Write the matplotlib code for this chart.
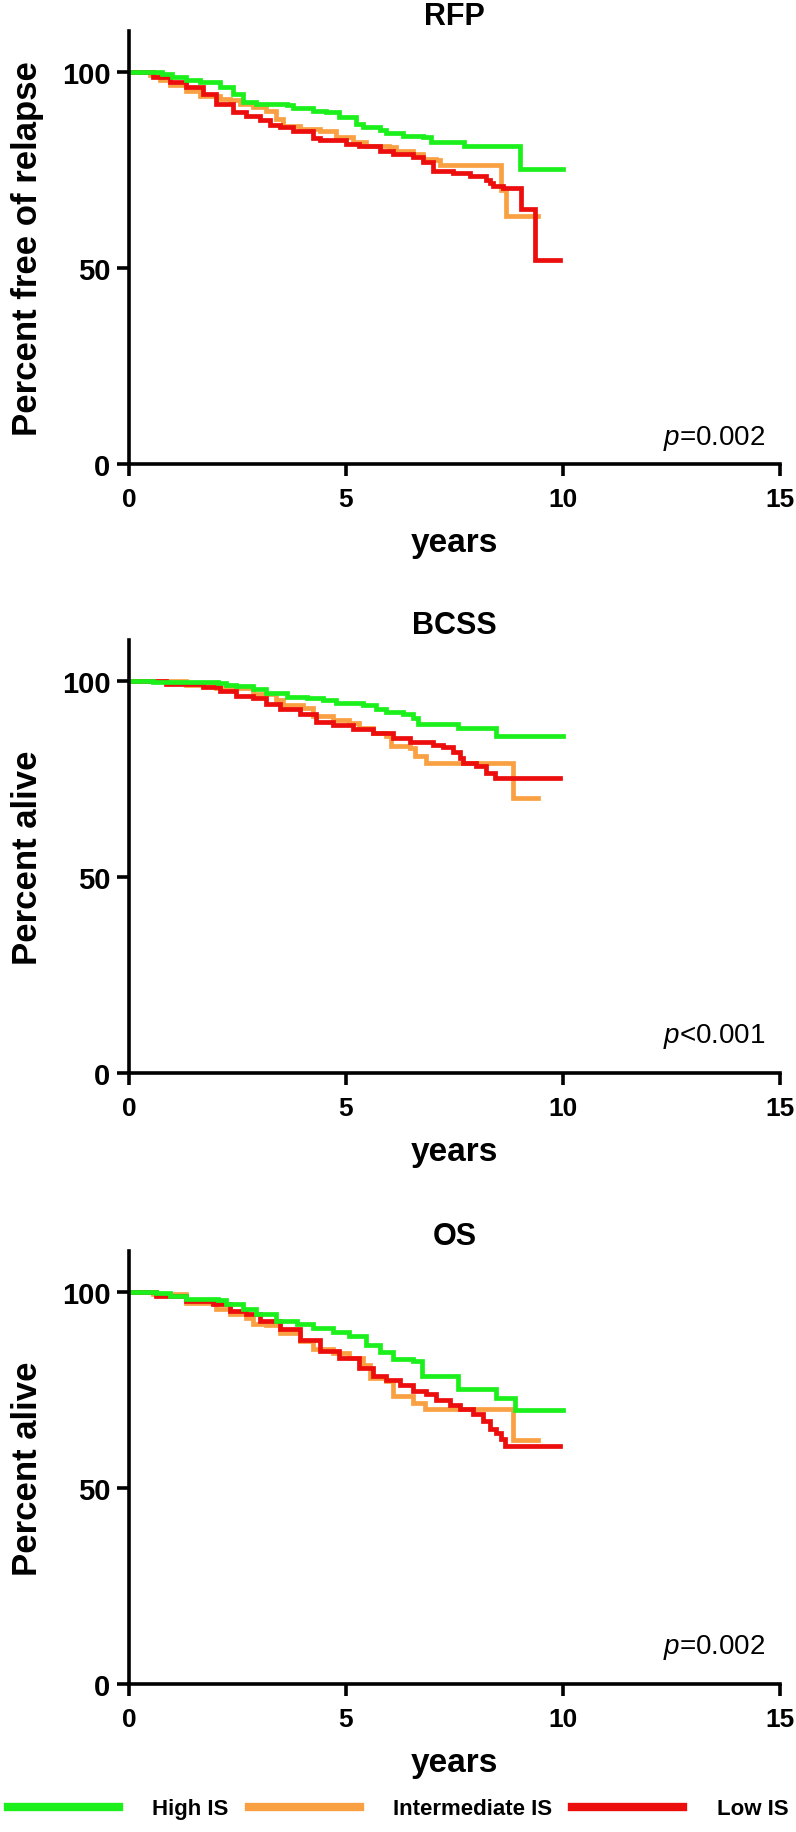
import matplotlib
matplotlib.use('Agg')
import matplotlib.pyplot as plt
from matplotlib.lines import Line2D

plt.rcParams['font.family'] = ['Liberation Sans', 'DejaVu Sans']
plt.rcParams['mathtext.fontset'] = 'custom'
plt.rcParams['mathtext.rm'] = 'Liberation Sans'
plt.rcParams['mathtext.it'] = 'Liberation Sans:italic'

groups = ['High IS', 'Intermediate IS', 'Low IS']
colors = ['#1CF01C', '#F9A043', '#EC0D0D']

panel_titles = ['RFP', 'BCSS', 'OS']
panel_ylabels = ['Percent free of relapse', 'Percent alive', 'Percent alive']
panel_pvalues = ['$p$=0.002', '$p$<0.001', '$p$=0.002']
pvalue_y = [5, 8, 8]

x_ticks = [0, 5, 10, 15]
y_ticks = [0, 50, 100]

# ---- RFP ----
rfp_high_t = [0, 0.75, 1.0, 1.32, 1.63, 2.09, 2.40, 2.63, 2.93, 3.63, 3.78, 4.24, 4.55, 4.85, 5.24,
              5.39, 5.78, 5.93, 6.31, 6.77, 6.97, 7.73, 9.0, 10.0]
rfp_high_s = [100, 99.6, 98.8, 97.9, 97.4, 96.2, 94.5, 92.5, 91.9, 91.5, 90.8, 90.2, 89.8, 88.5, 86.8,
              86.0, 85.3, 84.5, 83.7, 83.4, 82.3, 81.1, 75.3, 75.3]
rfp_int_t = [0, 0.48, 0.71, 0.94, 1.32, 1.63, 2.09, 2.32, 2.55, 2.86, 3.16, 3.39, 3.55, 3.93, 4.39,
             4.78, 5.16, 5.47, 6.0, 6.16, 6.54, 6.77, 7.08, 7.16, 8.58, 8.68, 9.42]
rfp_int_s = [100, 99.3, 98.1, 96.6, 95.1, 94.0, 93.2, 92.8, 91.9, 91.1, 90.0, 88.1, 86.2, 85.5, 84.9,
             83.4, 82.1, 81.1, 80.9, 80.0, 79.2, 77.9, 77.6, 76.2, 69.8, 63.4, 63.4]
rfp_low_t = [0, 0.55, 0.94, 1.32, 1.71, 2.01, 2.40, 2.70, 3.01, 3.24, 3.47, 3.78, 4.24, 4.39, 5.01,
             5.31, 5.78, 6.08, 6.54, 6.77, 7.0, 7.46, 7.85, 8.23, 8.31, 8.39, 8.62, 9.04, 9.35, 9.92]
rfp_low_s = [100, 98.7, 97.4, 96.2, 94.5, 91.9, 89.8, 88.9, 87.9, 86.6, 86.0, 84.9, 83.2, 82.6, 81.7,
             81.1, 80.0, 79.2, 78.3, 77.0, 74.9, 74.3, 73.5, 72.6, 71.8, 70.9, 70.4, 65.0, 52.0, 52.0]

# ---- BCSS ----
bcss_high_t = [0, 0.55, 1.32, 2.05, 2.24, 2.47, 2.86, 3.16, 3.63, 4.09, 4.47, 4.78, 5.39, 5.70,
               5.93, 6.31, 6.54, 6.66, 7.58, 8.46, 10.0]
bcss_high_s = [100, 99.8, 99.7, 99.6, 99.0, 98.7, 98.0, 97.0, 95.9, 95.6, 95.2, 94.3, 94.0, 92.8,
               92.2, 91.5, 90.6, 89.1, 88.1, 86.0, 86.0]
bcss_int_t = [0, 1.32, 2.01, 2.86, 3.39, 3.55, 4.01, 4.24, 4.70, 5.08, 5.31, 5.62, 5.93, 6.04,
              6.47, 6.58, 6.85, 8.85, 9.42]
bcss_int_s = [100, 99.1, 98.3, 96.8, 95.3, 94.0, 93.2, 91.1, 90.2, 89.4, 88.1, 86.8, 86.0, 83.4,
              83.0, 80.9, 79.2, 70.2, 70.2]
bcss_low_t = [0, 0.86, 1.70, 2.09, 2.47, 2.86, 3.16, 3.47, 3.93, 4.32, 4.70, 5.16, 5.62, 6.08,
              6.47, 7.0, 7.23, 7.46, 7.62, 7.70, 8.0, 8.23, 8.43, 9.92]
bcss_low_s = [100, 99.3, 98.5, 97.4, 96.2, 95.6, 94.2, 92.8, 91.5, 89.5, 88.7, 87.7, 86.8, 85.5,
              84.4, 83.8, 83.2, 82.0, 80.4, 79.2, 78.3, 76.6, 75.2, 75.2]

# ---- OS ----
os_high_t = [0, 0.63, 0.94, 1.32, 2.05, 2.24, 2.63, 2.93, 3.39, 3.86, 4.24, 4.70, 5.08, 5.47,
             5.78, 6.08, 6.54, 6.74, 7.58, 8.46, 8.89, 10.0]
os_high_s = [100, 99.8, 99.1, 98.3, 98.0, 96.9, 95.6, 94.3, 92.6, 91.8, 90.9, 89.8, 88.8, 86.6,
             84.7, 83.0, 82.4, 78.7, 75.2, 73.0, 69.8, 69.8]
os_int_t = [0, 0.55, 1.32, 2.01, 2.32, 2.70, 2.86, 3.16, 3.47, 3.93, 4.24, 4.70, 5.08, 5.39,
            5.55, 5.93, 6.08, 6.47, 6.54, 6.81, 8.85, 9.42]
os_int_s = [100, 99.4, 97.3, 95.6, 94.3, 93.5, 91.8, 91.5, 89.6, 87.5, 85.4, 84.5, 83.2, 81.5,
            78.1, 77.3, 73.6, 73.5, 71.8, 70.1, 62.2, 62.2]
os_low_t = [0, 0.63, 1.32, 1.94, 2.32, 2.70, 3.01, 3.47, 3.93, 4.39, 4.85, 5.31, 5.62, 5.93,
            6.24, 6.54, 6.85, 7.08, 7.39, 7.62, 7.93, 8.16, 8.31, 8.46, 8.58, 8.66, 9.92]
os_low_s = [100, 99.0, 97.7, 96.9, 95.2, 94.3, 92.6, 90.5, 87.9, 85.0, 83.2, 80.7, 78.6, 77.7,
            76.2, 74.7, 73.9, 72.6, 71.3, 70.1, 68.8, 67.1, 65.1, 64.1, 62.4, 60.7, 60.7]

panels = [
    [(rfp_high_t, rfp_high_s), (rfp_int_t, rfp_int_s), (rfp_low_t, rfp_low_s)],
    [(bcss_high_t, bcss_high_s), (bcss_int_t, bcss_int_s), (bcss_low_t, bcss_low_s)],
    [(os_high_t, os_high_s), (os_int_t, os_int_s), (os_low_t, os_low_s)],
]

W, H = 796, 1833
fig = plt.figure(figsize=(W / 100, H / 100), dpi=100)

left = 129 / W
width = 651 / W
height = 433 / H
bottoms = [(H - 465) / H, (H - 1074) / H, (H - 1685) / H]

bold_narrow = ['Liberation Sans Narrow', 'Liberation Sans', 'DejaVu Sans']

for i in range(3):
    ax = fig.add_axes([left, bottoms[i], width, height])
    order = [1, 2, 0]
    for g in order:
        t, s = panels[i][g]
        ax.step(t, s, where='post', color=colors[g], lw=3.4, solid_joinstyle='miter')
    ax.set_xlim(0, 15)
    ax.set_ylim(0, 110.5)
    ax.spines['top'].set_visible(False)
    ax.spines['right'].set_visible(False)
    for sp in ['left', 'bottom']:
        ax.spines[sp].set_linewidth(2.6)
    ax.set_xticks(x_ticks)
    ax.set_yticks(y_ticks)
    ax.tick_params(axis='both', length=8.5, width=2.6)
    ax.tick_params(axis='x', pad=8, labelsize=19)
    ax.tick_params(axis='y', pad=5, labelsize=21)
    for lab in ax.get_xticklabels() + ax.get_yticklabels():
        lab.set_fontweight('bold')
        lab.set_family(bold_narrow)
    ax.set_xlabel('years', fontsize=24, fontweight='bold', family=bold_narrow)
    ax.xaxis.set_label_coords(0.5, -0.145)
    ax.set_ylabel(panel_ylabels[i], fontsize=25, fontweight='bold')
    ax.yaxis.set_label_coords(-0.13, 0.5)
    ax.text(0.5, 1.0, panel_titles[i], transform=ax.transAxes, ha='center', va='bottom',
            fontsize=22, fontweight='bold', family=bold_narrow)
    ax.text(0.978, pvalue_y[i], panel_pvalues[i], transform=ax.get_yaxis_transform(),
            ha='right', va='baseline', fontsize=20)
    ax.patch.set_visible(False)

handles = [Line2D([0], [0], color=c, lw=6) for c in colors]
fig.legend(handles, groups, loc='center', bbox_to_anchor=(0.5, 23 / H), ncol=3, frameon=False,
           handlelength=5.0, handletextpad=1.5, columnspacing=0.9,
           prop={'weight': 'bold', 'size': 16, 'family': 'Liberation Sans'})

fig.savefig('out.png', dpi=100)
